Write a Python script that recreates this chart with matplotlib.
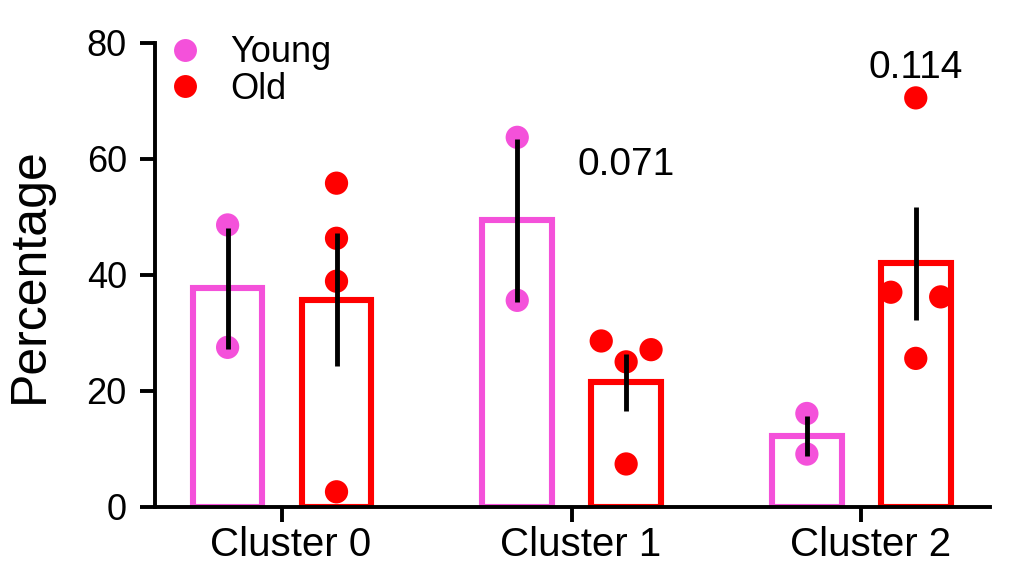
import numpy as np
import matplotlib
matplotlib.use("Agg")
import matplotlib.pyplot as plt
from matplotlib.lines import Line2D
from matplotlib.transforms import ScaledTranslation

plt.rcParams['font.family'] = ['Liberation Sans', 'DejaVu Sans']

clusters = ["Cluster 0", "Cluster 1", "Cluster 2"]
groups = ["Young", "Old"]

young_means = [37.7, 49.4, 12.2]
young_sems = [10.4, 14.0, 3.5]
old_means = [35.7, 21.5, 42.0]
old_sems = [11.5, 4.9, 9.7]

young_points = [[48.6, 27.5], [63.7, 35.6], [16.1, 9.1]]
old_points = [[55.8, 46.3, 38.9, 2.6], [28.6, 25.0, 27.1, 7.4], [70.5, 37.0, 36.2, 25.6]]
# horizontal jitter of each dot (in jitter steps)
young_jitter = [[0, 0], [0, 0], [0, 0]]
old_jitter = [[0, 0, 0, 0], [-1, 0, 1, 0], [0, -1, 1, 0]]

pvalues = ["", "0.071", "0.114"]
pvalue_y = [None, 59.0, 75.6]

yticks = [0, 20, 40, 60, 80]

PINK = "#F451DA"
RED = "#FF0000"

fig = plt.figure(figsize=(10.24, 5.86), dpi=100)
ax = fig.add_axes([0.151, 0.135, 0.816, 0.792])

x = np.arange(len(clusters))
off = 0.188
w = 0.24
jit = 0.086

for means, sems, pts, jits, sign, col in [
    (young_means, young_sems, young_points, young_jitter, -1, PINK),
    (old_means, old_sems, old_points, old_jitter, 1, RED),
]:
    xs = x + sign * off
    ax.bar(xs, means, width=w, facecolor="white", edgecolor=col, linewidth=4.4, zorder=2)
    for xi, p, j in zip(xs, pts, jits):
        ax.scatter(xi + np.array(j) * jit, p, s=280, color=col, edgecolors="none", zorder=3)
    ax.errorbar(xs, means, yerr=sems, fmt="none", ecolor="black", elinewidth=3.5, capsize=0, zorder=4)

for xi, t, yv in zip(x, pvalues, pvalue_y):
    if t:
        ax.text(xi + off, yv, t, ha="center", va="center", fontsize=28)

ax.set_xlim(-0.44, 2.445)
ax.set_ylim(0, 80)
ax.set_yticks(yticks)
ax.set_xticks(x)
ax.set_xticklabels(clusters)
ax.set_ylabel("Percentage", fontsize=36, labelpad=24)

for s in ["top", "right"]:
    ax.spines[s].set_visible(False)
for s in ["left", "bottom"]:
    ax.spines[s].set_linewidth(2.8)
ax.tick_params(axis="both", width=2.8, length=11)
ax.tick_params(axis="y", labelsize=26, pad=9)
ax.tick_params(axis="x", labelsize=29, pad=3)

shift = ScaledTranslation(0.09, 0, fig.dpi_scale_trans)
for lbl in ax.get_xticklabels():
    lbl.set_transform(lbl.get_transform() + shift)

handles = [Line2D([], [], marker="o", linestyle="none", color=c, markersize=16.5, markeredgewidth=0) for c in (PINK, RED)]
ax.legend(handles, groups, loc="upper left", bbox_to_anchor=(-0.011, 1.055), frameon=False,
          fontsize=26, handletextpad=0.64, labelspacing=0.05, borderpad=0, handlelength=1.2)

fig.savefig("out.png", dpi=100)
